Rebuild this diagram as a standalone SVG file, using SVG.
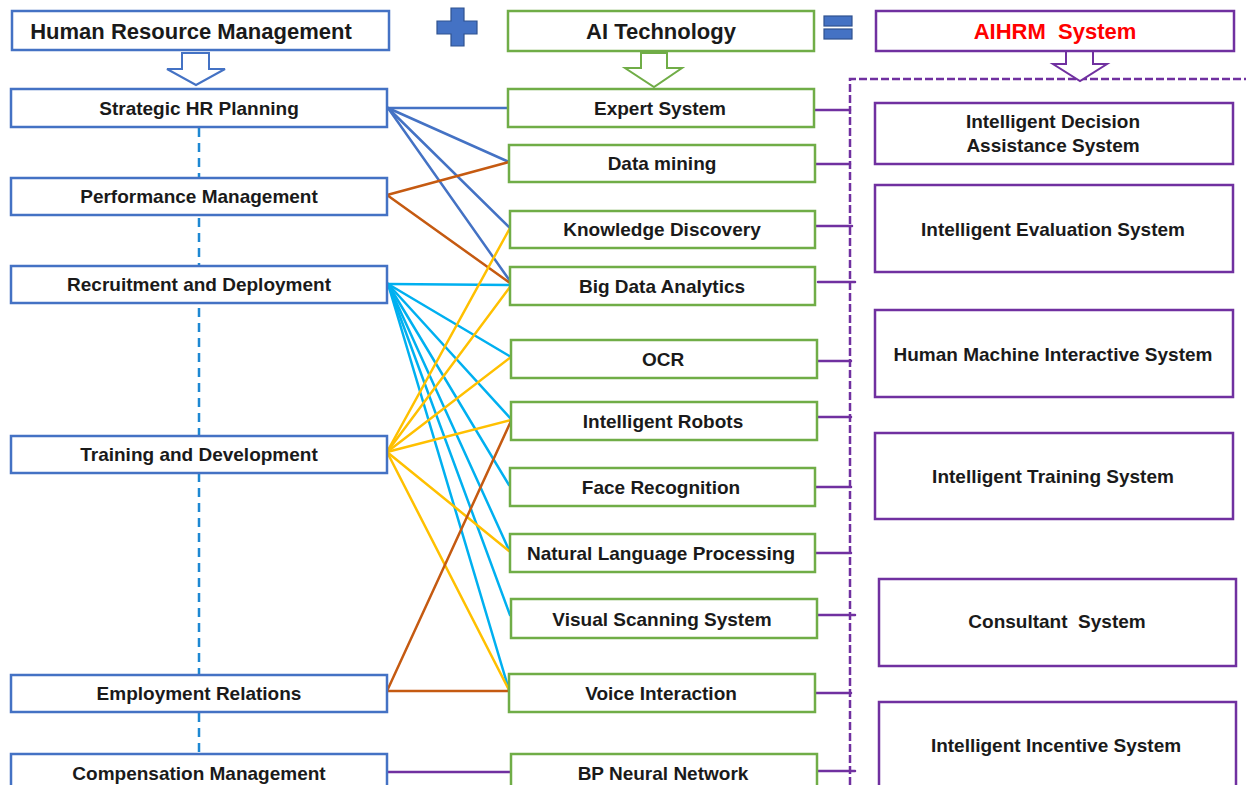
<svg xmlns="http://www.w3.org/2000/svg" width="1246" height="785" viewBox="0 0 1246 785">
<style>
.bg{fill:#ffffff}
.hr{fill:#ffffff;stroke:#4472C4;stroke-width:2.5}
.ai{fill:#ffffff;stroke:#70AD47;stroke-width:2.5}
.sys{fill:#ffffff;stroke:#7030A0;stroke-width:2.5}
text{font-family:"Liberation Sans",Arial,sans-serif;font-weight:bold;fill:#1a1a1a;text-anchor:middle}
.h{font-size:22px}
.n{font-size:19px}
.red{fill:#FF0000}
.c{fill:none;stroke-width:2.5;stroke-linecap:round}
.blue{stroke:#4472C4}
.orange{stroke:#C55A11}
.cyan{stroke:#00B0F0}
.yellow{stroke:#FFC000}
.purple{stroke:#7030A0}
.dashb{fill:none;stroke:#1E88D2;stroke-width:2.5;stroke-dasharray:9 6}
.dashp{fill:none;stroke:#7030A0;stroke-width:2.5;stroke-dasharray:8 3}
</style>
<rect class="bg" x="0" y="0" width="1246" height="785"/>

<!-- background guide lines -->
<g id="guides">
  <line class="dashb" x1="199" y1="128" x2="199" y2="755"/>
  <polyline class="dashp" points="850,785 850,79 1246,79"/>
</g>

<!-- connectors -->
<g id="connectors">
  <!-- Strategic HR Planning -->
  <line class="c blue" x1="388" y1="108" x2="508" y2="108"/>
  <line class="c blue" x1="388" y1="108" x2="509" y2="162"/>
  <line class="c blue" x1="388" y1="108" x2="510" y2="228"/>
  <line class="c blue" x1="388" y1="108" x2="510" y2="281"/>
  <!-- Performance Management -->
  <line class="c orange" x1="387" y1="195" x2="509" y2="162"/>
  <line class="c orange" x1="387" y1="195" x2="510" y2="283"/>
  <!-- Recruitment and Deployment -->
  <line class="c cyan" x1="388" y1="284" x2="510" y2="285"/>
  <line class="c cyan" x1="388" y1="284" x2="511" y2="357"/>
  <line class="c cyan" x1="388" y1="284" x2="511" y2="419"/>
  <line class="c cyan" x1="388" y1="284" x2="509" y2="485"/>
  <line class="c cyan" x1="388" y1="284" x2="509" y2="550"/>
  <line class="c cyan" x1="388" y1="284" x2="510" y2="615"/>
  <line class="c cyan" x1="388" y1="284" x2="509" y2="690"/>
  <!-- Training and Development -->
  <line class="c yellow" x1="387" y1="452" x2="510" y2="228"/>
  <line class="c yellow" x1="387" y1="452" x2="510" y2="287"/>
  <line class="c yellow" x1="387" y1="452" x2="511" y2="357"/>
  <line class="c yellow" x1="387" y1="452" x2="511" y2="420"/>
  <line class="c yellow" x1="387" y1="452" x2="509" y2="551"/>
  <line class="c yellow" x1="387" y1="452" x2="509" y2="690"/>
  <!-- Employment Relations -->
  <line class="c orange" x1="387" y1="691" x2="511" y2="421"/>
  <line class="c orange" x1="387" y1="691" x2="509" y2="691"/>
  <!-- Compensation Management -->
  <line class="c purple" x1="388" y1="772" x2="511" y2="772"/>
  <!-- AI to dashed bus -->
  <line class="c purple" x1="815" y1="110" x2="850" y2="110"/>
  <line class="c purple" x1="812" y1="164" x2="850" y2="164"/>
  <line class="c purple" x1="813" y1="226" x2="852" y2="226"/>
  <line class="c purple" x1="818" y1="282" x2="855" y2="282"/>
  <line class="c purple" x1="815" y1="361" x2="851" y2="361"/>
  <line class="c purple" x1="815" y1="417" x2="851" y2="417"/>
  <line class="c purple" x1="813" y1="487" x2="851" y2="487"/>
  <line class="c purple" x1="813" y1="553" x2="851" y2="553"/>
  <line class="c purple" x1="818" y1="615" x2="855" y2="615"/>
  <line class="c purple" x1="815" y1="693" x2="851" y2="693"/>
  <line class="c purple" x1="816" y1="771" x2="855" y2="771"/>
</g>

<!-- operators and arrows -->
<g id="plus">
  <path d="M451,8 H464 V21 H477 V34 H464 V46 H451 V34 H437 V21 H451 Z" fill="#4472C4" stroke="#2F528F" stroke-width="1.2"/>
</g>
<g id="equals">
  <rect x="824" y="16" width="28" height="10" fill="#4472C4" stroke="#2F528F" stroke-width="1.2"/>
  <rect x="824" y="29" width="28" height="10" fill="#4472C4" stroke="#2F528F" stroke-width="1.2"/>
</g>
<g id="arrow-hr">
  <polygon points="182,53 209,53 209,69 225,69 196,85 167,69 182,69" fill="#ffffff" stroke="#4472C4" stroke-width="2"/>
</g>
<g id="arrow-ai">
  <polygon points="641,53 667,53 667,68 682,68 654,87 625,68 641,68" fill="#ffffff" stroke="#70AD47" stroke-width="2"/>
</g>
<g id="arrow-sys">
  <polygon points="1066,48 1093,48 1093,64 1107,64 1080,81 1053,64 1066,64" fill="#ffffff" stroke="#7030A0" stroke-width="2"/>
</g>

<!-- HR column -->
<g id="hrm-header"><rect class="hr" x="12" y="11" width="377" height="39"/><text class="h" x="191" y="39">Human Resource Management</text></g>
<g id="hr-strategic"><rect class="hr" x="11" y="89" width="376" height="38"/><text class="n" x="199" y="115">Strategic HR Planning</text></g>
<g id="hr-performance"><rect class="hr" x="11" y="178" width="376" height="37"/><text class="n" x="199" y="203">Performance Management</text></g>
<g id="hr-recruitment"><rect class="hr" x="11" y="266" width="376" height="37"/><text class="n" x="199" y="291">Recruitment and Deployment</text></g>
<g id="hr-training"><rect class="hr" x="11" y="436" width="376" height="37"/><text class="n" x="199" y="461">Training and Development</text></g>
<g id="hr-employment"><rect class="hr" x="11" y="675" width="376" height="37"/><text class="n" x="199" y="700">Employment Relations</text></g>
<g id="hr-compensation"><rect class="hr" x="11" y="754" width="376" height="40"/><text class="n" x="199" y="780">Compensation Management</text></g>

<!-- AI column -->
<g id="ai-header"><rect class="ai" x="508" y="11" width="306" height="40"/><text class="h" x="661" y="39">AI Technology</text></g>
<g id="ai-expert"><rect class="ai" x="508" y="89" width="306" height="38"/><text class="n" x="660" y="115">Expert System</text></g>
<g id="ai-datamining"><rect class="ai" x="509" y="145" width="306" height="37"/><text class="n" x="662" y="170">Data mining</text></g>
<g id="ai-knowledge"><rect class="ai" x="510" y="211" width="305" height="37"/><text class="n" x="662" y="236">Knowledge Discovery</text></g>
<g id="ai-bigdata"><rect class="ai" x="510" y="267" width="305" height="38"/><text class="n" x="662" y="293">Big Data Analytics</text></g>
<g id="ai-ocr"><rect class="ai" x="511" y="340" width="306" height="38"/><text class="n" x="663" y="366">OCR</text></g>
<g id="ai-robots"><rect class="ai" x="511" y="402" width="306" height="38"/><text class="n" x="663" y="428">Intelligent Robots</text></g>
<g id="ai-face"><rect class="ai" x="510" y="468" width="305" height="38"/><text class="n" x="661" y="494">Face Recognition</text></g>
<g id="ai-nlp"><rect class="ai" x="510" y="534" width="305" height="38"/><text class="n" x="661" y="560">Natural Language Processing</text></g>
<g id="ai-visual"><rect class="ai" x="511" y="599" width="306" height="39"/><text class="n" x="662" y="626">Visual Scanning System</text></g>
<g id="ai-voice"><rect class="ai" x="509" y="674" width="306" height="38"/><text class="n" x="661" y="700">Voice Interaction</text></g>
<g id="ai-bp"><rect class="ai" x="511" y="754" width="306" height="40"/><text class="n" x="663" y="780">BP Neural Network</text></g>

<!-- AIHRM column -->
<g id="sys-header"><rect class="sys" x="876" y="11" width="358" height="40"/><text class="h red" x="1055" y="39" xml:space="preserve">AIHRM  System</text></g>
<g id="sys-decision"><rect class="sys" x="875" y="103" width="358" height="61"/><text class="n" x="1053" y="128">Intelligent Decision</text><text class="n" x="1053" y="152">Assistance System</text></g>
<g id="sys-evaluation"><rect class="sys" x="875" y="185" width="358" height="87"/><text class="n" x="1053" y="236">Intelligent Evaluation System</text></g>
<g id="sys-hmi"><rect class="sys" x="875" y="310" width="358" height="87"/><text class="n" x="1053" y="361">Human Machine Interactive System</text></g>
<g id="sys-training"><rect class="sys" x="875" y="433" width="358" height="86"/><text class="n" x="1053" y="483">Intelligent Training System</text></g>
<g id="sys-consultant"><rect class="sys" x="879" y="579" width="357" height="87"/><text class="n" x="1057" y="628" xml:space="preserve">Consultant  System</text></g>
<g id="sys-incentive"><rect class="sys" x="879" y="702" width="357" height="90"/><text class="n" x="1056" y="752">Intelligent Incentive System</text></g>
</svg>
